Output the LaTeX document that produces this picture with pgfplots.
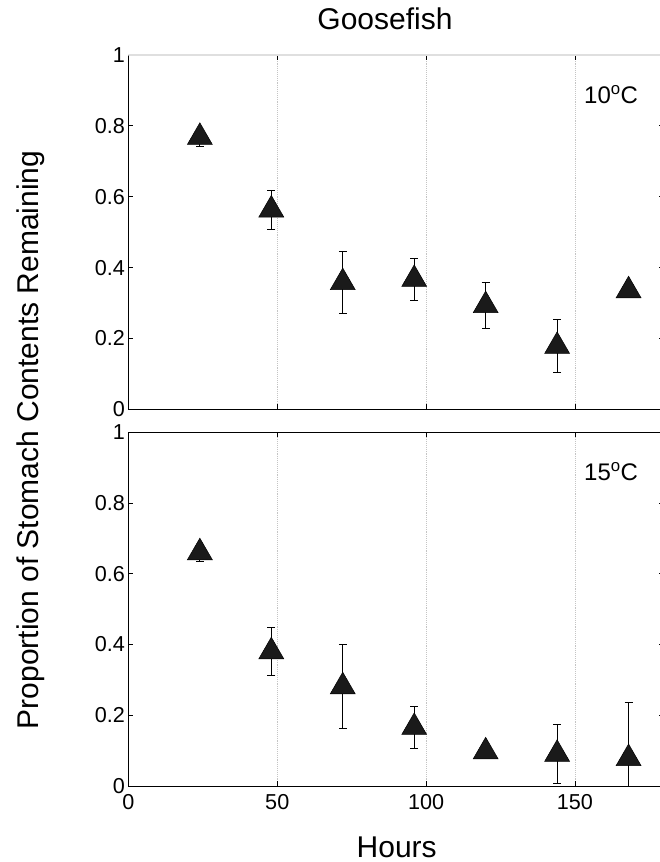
\documentclass[border=0pt]{standalone}
\usepackage{pgfplots}
\pgfplotsset{compat=1.18}
\usepackage{fontspec}
\setmainfont{Liberation Sans}
\definecolor{mk}{HTML}{1A1A1A}
\definecolor{gridc}{HTML}{C4C4C4}
\pgfplotsset{
  panel/.style={
    scale only axis, width=535.9pt,
    xmin=0, xmax=180, ymin=0, ymax=1,
    xtick={0,50,100,150},
    ytick={0,0.2,0.4,0.6,0.8,1},
    yticklabels={0,0.2,0.4,0.6,0.8,1},
    tick align=inside, major tick length=5pt,
    tick style={black, line width=0.8pt},
    axis line style={line width=0.9pt},
    xmajorgrids, grid style={gridc, line width=0.9pt, densely dotted},
    /pgf/number format/assume math mode=true,
    tick label style={font=\fontsize{21.6}{24}\selectfont},
    xticklabel style={yshift=-5pt},
    clip marker paths=false,
  },
  pts/.style={
    only marks, mark=triangle*, mark size=14.4pt,
    mark options={fill=mk, draw=black, line width=0.5pt},
    error bars/.cd, y dir=both, y explicit,
    error bar style={black, line width=0.8pt},
    error mark options={black, line width=0.8pt, mark size=4pt, rotate=90},
  },
}
\begin{document}
\begin{tikzpicture}
\begin{axis}[panel, height=354.3pt, at={(0pt,0pt)}, anchor=south west, xticklabels={}]
\addplot+[pts] table[x=h, y=v, y error plus=ep, y error minus=em] {
h v ep em
24 0.768 0.010 0.025
48 0.563 0.056 0.056
72 0.358 0.087 0.087
96 0.367 0.060 0.060
120 0.293 0.065 0.065
144 0.178 0.075 0.075
168 0.335 0 0
};
\draw[gray!25, line width=1.4pt] (rel axis cs:0,1) -- (rel axis cs:1,1);
\node[anchor=base west, font=\fontsize{24}{28}\selectfont] at (axis cs:151.9,0.862) {10\textsuperscript{o}C};
\end{axis}
\begin{axis}[panel, height=353.7pt, at={(0pt,-23pt)}, anchor=north west, xticklabels={0,50,100,150}]
\addplot+[pts] table[x=h, y=v, y error plus=ep, y error minus=em] {
h v ep em
24 0.660 0.010 0.024
48 0.380 0.068 0.068
72 0.281 0.119 0.119
96 0.166 0.060 0.060
120 0.097 0 0
144 0.090 0.083 0.083
168 0.078 0.157 0.157
};
\node[anchor=base west, font=\fontsize{24}{28}\selectfont] at (axis cs:151.9,0.865) {15\textsuperscript{o}C};
\end{axis}
\node[anchor=base, font=\fontsize{30}{34}\selectfont] at (256.6pt,379.8pt) {Goosefish};
\node[anchor=base, inner sep=0pt, font=\fontsize{30}{34}\selectfont] at (268.3pt,-448pt) {Hours};
\node[rotate=90, anchor=base, font=\fontsize{30}{34}\selectfont] at (-89.9pt,-30.7pt) {Proportion of Stomach Contents Remaining};
\pgfresetboundingbox
\useasboundingbox (-128.4pt,-452.7pt) rectangle (531.6pt,409.3pt);
\end{tikzpicture}
\end{document}
